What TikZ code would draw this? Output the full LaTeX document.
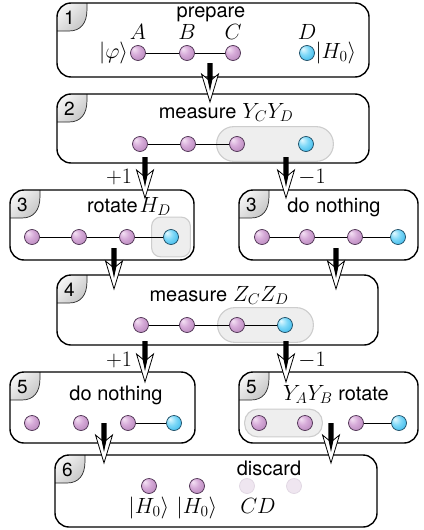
\RequirePackage{fix-cm}
\documentclass[tikz,border=0pt]{standalone}
\usepackage{fontspec}
\newfontfamily\headfont{TeX Gyre Heros}
\usetikzlibrary{calc,fit}

% ball and panel colours
\definecolor{ballPa}{HTML}{F4E2F4}
\definecolor{ballPb}{HTML}{D6AAD8}
\definecolor{ballPc}{HTML}{B888BC}
\definecolor{ballPd}{HTML}{9A6AA0}
\definecolor{ballPline}{HTML}{4B3050}
\definecolor{ballBa}{HTML}{E4F9FF}
\definecolor{ballBb}{HTML}{80D9F8}
\definecolor{ballBc}{HTML}{3DB9EA}
\definecolor{ballBd}{HTML}{2898CA}
\definecolor{ballBline}{HTML}{1C4B63}
\definecolor{fadeFill}{HTML}{EFE6F0}
\definecolor{fadeLine}{HTML}{E0D6E2}
\definecolor{pillFill}{HTML}{EEEEEE}
\definecolor{pillLine}{HTML}{CDCDCD}

\pgfdeclareradialshading{purpleball}{\pgfpoint{-14bp}{14bp}}{color(0bp)=(ballPa); color(16bp)=(ballPb); color(34bp)=(ballPc); color(50bp)=(ballPd)}
\pgfdeclareradialshading{blueball}{\pgfpoint{-14bp}{14bp}}{color(0bp)=(ballBa); color(16bp)=(ballBb); color(34bp)=(ballBc); color(50bp)=(ballBd)}

\pgfdeclarelayer{panels}
\pgfdeclarelayer{pills}
\pgfsetlayers{panels,pills,main}

% thick black shaft ending in a white arrowhead
\newcommand\flowarrow[2]{%
  \path[fill=white, draw=black, line width=0.8pt, line join=miter]
    (#2) -- ($(#2)+(-8.5,-28)$) -- ($(#2)+(0,-21)$) -- ($(#2)+(8.5,-28)$) -- cycle;
  \fill[black] ($(#1)+(-2.7,0)$) -- ($(#2)+(-2.7,-24)$) -- ($(#2)+(0,-11)$)
    -- ($(#2)+(2.7,-24)$) -- ($(#1)+(2.7,0)$) -- cycle;
}

% grey corner tab of a panel, clipped to the panel outline
\newcommand\paneltab[1]{%
  \begin{scope}
    \clip[rounded corners=14pt] (#1.north west) rectangle (#1.south east);
    \begin{scope}[shift={(#1.north west)}]
      \shade[top color=gray!4, bottom color=gray!45, shading angle=45]
        (-2,-2) -- (30,-2) -- (30,6) .. controls (30,20) and (24,28) .. (12,28) -- (-2,28) -- cycle;
      \draw[line width=0.7pt, black!85]
        (30,0) -- (30,6) .. controls (30,20) and (24,28) .. (12,28) -- (0,28);
    \end{scope}
  \end{scope}
  \draw[panelline] (#1.north west) rectangle (#1.south east);
}

\newcommand\mathbig{\fontsize{22}{26}\selectfont}

\tikzset{
  panel/.style={fill=white, inner sep=0pt, outer sep=0pt},
  panelline/.style={line width=1.4pt, rounded corners=14pt},
  ballbase/.style={circle, minimum size=15pt, inner sep=0pt, line width=0.7pt},
  pball/.style={ballbase, draw=ballPline, shade, shading=purpleball},
  bball/.style={ballbase, draw=ballBline, shade, shading=blueball},
  fball/.style={ballbase, draw=fadeLine, fill=fadeFill},
  conn/.style={line width=0.8pt},
  pill/.style={draw=pillLine, fill=pillFill, line width=1.1pt, inner sep=0pt},
  title/.style={font=\headfont\fontsize{20}{24}\selectfont, anchor=base, inner sep=0pt},
  mlabel/.style={font=\mathbig, inner sep=0pt},
  tabnum/.style={font=\headfont\fontsize{19}{22}\selectfont, inner sep=0pt},
}

\begin{document}
\begin{tikzpicture}[x=1pt, y=-1pt]
\useasboundingbox (0,0) rectangle (423,530);

% ---------- panels ----------
\begin{pgfonlayer}{panels}
\node[panel, minimum width=312pt, minimum height=74pt] (p1) at (213,40) {};
\node[panel, minimum width=312pt, minimum height=69pt] (p2) at (213,128.5) {};
\node[panel, minimum width=184pt, minimum height=70pt] (p3L) at (102,225) {};
\node[panel, minimum width=179pt, minimum height=70pt] (p3R) at (328.5,225) {};
\node[panel, minimum width=321pt, minimum height=70pt] (p4) at (217.5,310) {};
\node[panel, minimum width=185pt, minimum height=71pt] (p5L) at (102.5,407.5) {};
\node[panel, minimum width=179pt, minimum height=71pt] (p5R) at (328.5,407.5) {};
\node[panel, minimum width=322pt, minimum height=72pt] (p6) at (216,491) {};
\foreach \p in {p1,p2,p3L,p3R,p4,p5L,p5R,p6} {\paneltab{\p}}
\end{pgfonlayer}

% step numbers in the corner tabs
\foreach \p/\n in {p1/1,p2/2,p3L/3,p3R/3,p4/4,p5L/5,p5R/5,p6/6}
  \node[tabnum] (t\p) at ($(\p.north west)+(12.5,15)$) {\n};

% ---------- 1: prepare ----------
\node[title] (h1) at (211,17) {prepare};
\node[pball] (b1a) at (138,53) {};
\node[pball] (b1b) at (187,53) {};
\node[pball] (b1c) at (233,53) {};
\node[bball] (b1d) at (307,53) {};
\draw[conn] (b1a) -- (b1b);
\draw[conn] (b1b) -- (b1c);
\node[mlabel, anchor=base] (lA) at (138,39.5) {$A$};
\node[mlabel, anchor=base] (lB) at (187,39.5) {$B$};
\node[mlabel, anchor=base] (lC) at (233,39.5) {$C$};
\node[mlabel, anchor=base] (lD) at (307,39.5) {$D$};
\node[mlabel, anchor=east] (kphi) at ($(b1a.west)+(-2,0)$) {$|\varphi\rangle$};
\node[mlabel, anchor=west] (kH) at ($(b1d.east)+(0.5,0)$) {$|H_0\rangle$};

% ---------- 2: measure Y_C Y_D ----------
\node[title] (h2) at (226,118) {measure\hspace{0.3em}{\mathbig$Y_CY_D$}};
\node[pball] (b2a) at (140,144) {};
\node[pball] (b2b) at (188,144) {};
\node[pball] (b2c) at (237,144) {};
\node[bball] (b2d) at (306,144) {};
\begin{pgfonlayer}{pills}
\node[pill, fit=(b2c)(b2d), inner xsep=16pt, inner ysep=9.5pt, xshift=3.5pt, rounded corners=17pt] (q2) {};
\end{pgfonlayer}
\draw[conn] (b2a) -- (b2b);
\draw[conn] (b2b) -- (b2c);

% ---------- 3: rotate H_D / do nothing ----------
\node[title] (h3L) at (129,212) {rotate\hspace{2pt}{\mathbig$H_D$}};
\node[pball] (b3a) at (32,237) {};
\node[pball] (b3b) at (79,237) {};
\node[pball] (b3c) at (127,237) {};
\node[bball] (b3d) at (171,237) {};
\begin{pgfonlayer}{pills}
\node[pill, fit=(b3d), inner xsep=11.5pt, inner ysep=12pt, rounded corners=9pt] (q3) {};
\end{pgfonlayer}
\draw[conn] (b3a) -- (b3b);
\draw[conn] (b3b) -- (b3c);
\draw[conn] (b3c) -- (b3d);

\node[title] (h3R) at (334,212) {do nothing};
\node[pball] (c3a) at (262,237) {};
\node[pball] (c3b) at (307,237) {};
\node[pball] (c3c) at (355,237) {};
\node[bball] (c3d) at (398,237) {};
\draw[conn] (c3a) -- (c3b);
\draw[conn] (c3b) -- (c3c);
\draw[conn] (c3c) -- (c3d);

% ---------- 4: measure Z_C Z_D ----------
\node[title] (h4) at (219,301) {measure\hspace{0.3em}{\mathbig$Z_CZ_D$}};
\node[pball] (b4a) at (141,325) {};
\node[pball] (b4b) at (187,325) {};
\node[pball] (b4c) at (237,325) {};
\node[bball] (b4d) at (285,325) {};
\begin{pgfonlayer}{pills}
\node[pill, fit=(b4c)(b4d), inner xsep=16pt, inner ysep=9.5pt, xshift=4.5pt, rounded corners=17pt] (q4) {};
\end{pgfonlayer}
\draw[conn] (b4a) -- (b4b);
\draw[conn] (b4b) -- (b4c);
\draw[conn] (b4c) -- (b4d);

% ---------- 5: do nothing / Y_A Y_B rotate ----------
\node[title] (h5L) at (116,400) {do nothing};
\node[pball] (b5a) at (32,423) {};
\node[pball] (b5b) at (81,423) {};
\node[pball] (b5c) at (128,423) {};
\node[bball] (b5d) at (174,423) {};
\draw[conn] (b5c) -- (b5d);

\node[title] (h5R) at (336,400) {{\mathbig$Y_AY_B$} rotate};
\node[pball] (c5a) at (259,423) {};
\node[pball] (c5b) at (305,423) {};
\node[pball] (c5c) at (356,423) {};
\node[bball] (c5d) at (399,423) {};
\begin{pgfonlayer}{pills}
\node[pill, fit=(c5a)(c5b), inner xsep=8pt, inner ysep=6pt, xshift=1.5pt, rounded corners=13pt] (q5) {};
\end{pgfonlayer}
\draw[conn] (c5c) -- (c5d);

% ---------- 6: discard ----------
\node[title] (h6) at (269,475) {discard};
\node[pball] (b6a) at (149,486) {};
\node[pball] (b6b) at (197,486) {};
\node[fball] (b6c) at (247,486) {};
\node[fball] (b6d) at (294,486) {};
\node[mlabel] (k6a) at (149,508) {$|H_0\rangle$};
\node[mlabel] (k6b) at (197,508) {$|H_0\rangle$};
\node[mlabel] (k6cd) at (258,506) {$CD$};

% ---------- arrows between steps ----------
\coordinate (s12) at (210,63);   \coordinate (e12) at (210,102);
\coordinate (s23L) at (145,157); \coordinate (e23L) at (145,198);
\coordinate (s23R) at (286,157); \coordinate (e23R) at (286,198);
\coordinate (s34L) at (114,248); \coordinate (e34L) at (114,289);
\coordinate (s34R) at (336,248); \coordinate (e34R) at (336,289);
\coordinate (s45L) at (145,341); \coordinate (e45L) at (145,382);
\coordinate (s45R) at (286,341); \coordinate (e45R) at (286,382);
\coordinate (s56L) at (104,423); \coordinate (e56L) at (104,463);
\coordinate (s56R) at (331,423); \coordinate (e56R) at (331,463);

\flowarrow{s12}{e12}
\flowarrow{s23L}{e23L}
\flowarrow{s23R}{e23R}
\flowarrow{s34L}{e34L}
\flowarrow{s34R}{e34R}
\flowarrow{s45L}{e45L}
\flowarrow{s45R}{e45R}
\flowarrow{s56L}{e56L}
\flowarrow{s56R}{e56R}

% measurement outcomes
\node[mlabel] (o2p) at (119,177) {$+1$};
\node[mlabel] (o2m) at (312,177) {$-1$};
\node[mlabel] (o4p) at (119,360) {$+1$};
\node[mlabel] (o4m) at (312,360) {$-1$};
\end{tikzpicture}
\end{document}
